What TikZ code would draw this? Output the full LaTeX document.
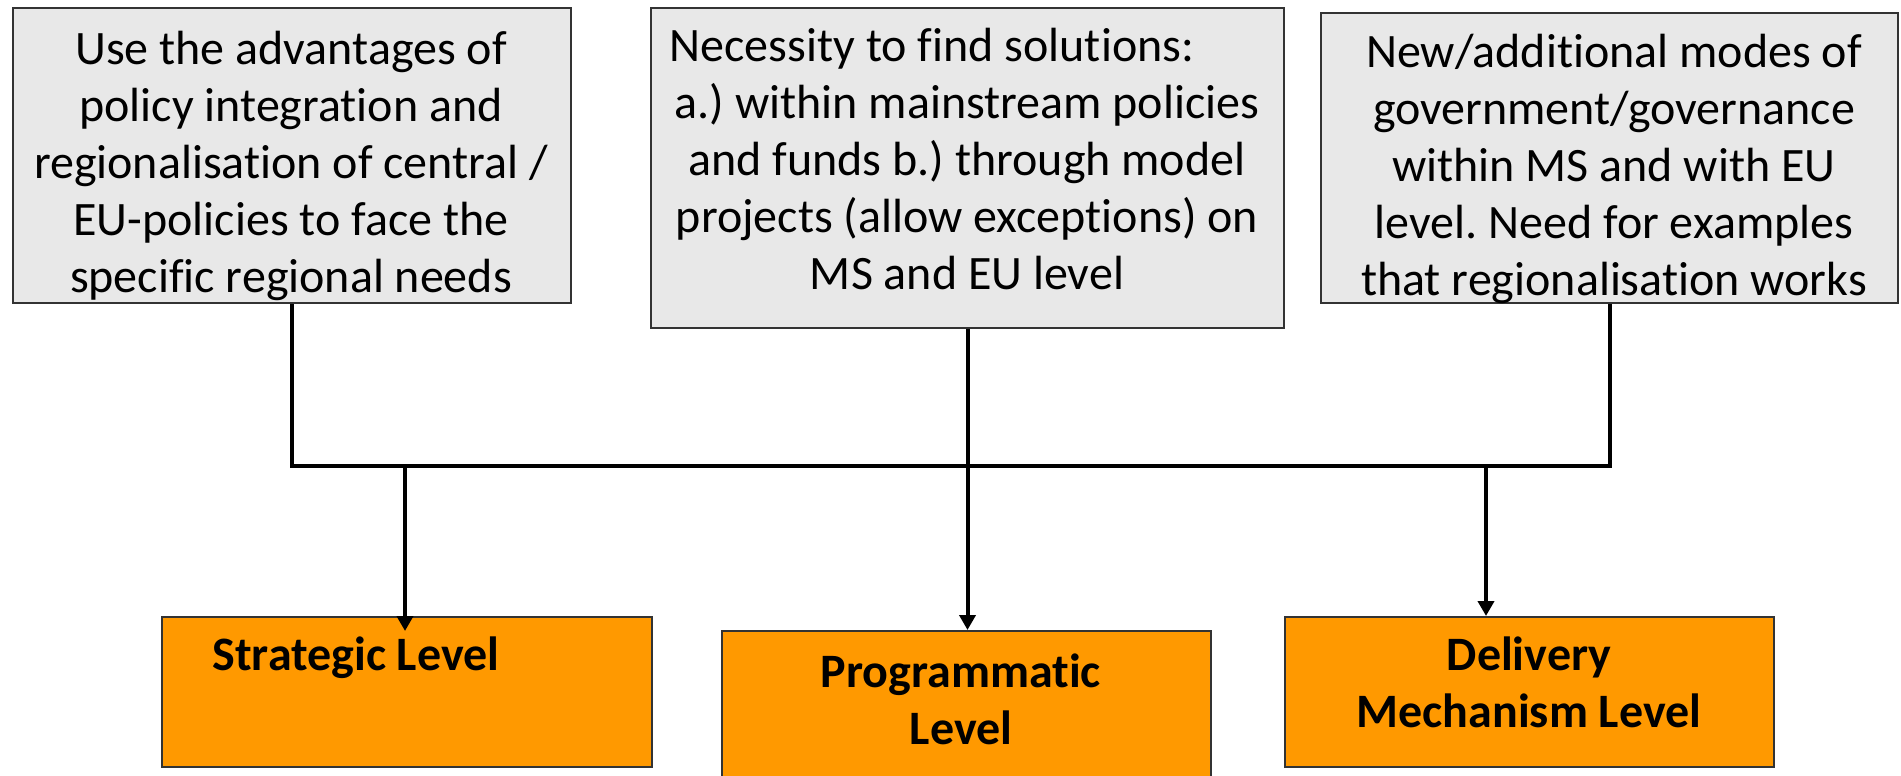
\documentclass[tikz,border=0pt]{standalone}
\usepackage{fontspec}
\setmainfont[Ligatures={NoCommon}]{Carlito}
\frenchspacing
\usetikzlibrary{arrows.meta}
\definecolor{boxgrey}{HTML}{E8E8E8}
\definecolor{levelorange}{HTML}{FF9900}
\definecolor{edgegrey}{HTML}{333333}
\begin{document}
\begin{tikzpicture}[x=0.5pt,y=-0.5pt,
  greybox/.style={draw=edgegrey, line width=1pt, fill=boxgrey, inner sep=0pt, anchor=north west},
  levelbox/.style={draw=edgegrey, line width=1pt, fill=levelorange, inner sep=0pt, anchor=north west},
  boxtext/.style={align=center, font=\fontsize{24}{28.5}\selectfont, inner sep=0pt, anchor=base},
  leveltext/.style={align=center, font=\fontsize{24}{28.5}\selectfont\bfseries, inner sep=0pt, anchor=base},
  conn/.style={line width=2pt},
  arr/.style={conn, -{Triangle[width=8pt,length=7.5pt]}}]
\useasboundingbox (0,0) rectangle (1901,776);
% boxes
\node[greybox, minimum width=279pt, minimum height=147.5pt] (b1) at (12,7) {};
\node[greybox, minimum width=316.5pt, minimum height=160pt] (b2) at (650,7) {};
\node[greybox, minimum width=288.5pt, minimum height=145pt] (b3) at (1320,12) {};
\node[levelbox, minimum width=245pt, minimum height=75pt] (strat) at (161,616) {};
\node[levelbox, minimum width=244.5pt, minimum height=85pt] (prog) at (721,630) {};
\node[levelbox, minimum width=244.5pt, minimum height=75pt] (deliv) at (1284,616) {};
% connectors
\coordinate (bus) at (0,466);
\coordinate (a1) at (405,466);
\coordinate (a3) at (1486,466);
\draw[conn] (b1.south) -- (b1.south |- bus) -- (b3.south |- bus) -- (b3.south);
\draw[arr] (b2.south) -- (b2.south |- prog.north);
\draw[arr] (a1) -- ([yshift=-7.5pt]a1 |- strat.north);
\draw[arr] (a3) -- (a3 |- deliv.north);
% texts (anchored at the baseline of the last line)
\node[boxtext] (t1) at (291,292) {Use the advantages of\\policy integration and\\regionalisation of central /\\EU-policies to face the\\specific regional needs};
\node[boxtext] (t2) at (967,289) {Necessity to find solutions:\hspace*{35pt}\\a.) within mainstream policies\\and funds b.) through model\\projects (allow exceptions) on\\MS and EU level};
\node[boxtext] (t3) at (1614,295) {New/additional modes of\\government/governance\\within MS and with EU\\level. Need for examples\\that regionalisation works};
\node[leveltext] (s1) at (356,670) {Strategic Level};
\node[leveltext] (s2) at (961,744) {Programmatic\\Level};
\node[leveltext] (s3) at (1529,727) {Delivery\\Mechanism Level};
\end{tikzpicture}
\end{document}
